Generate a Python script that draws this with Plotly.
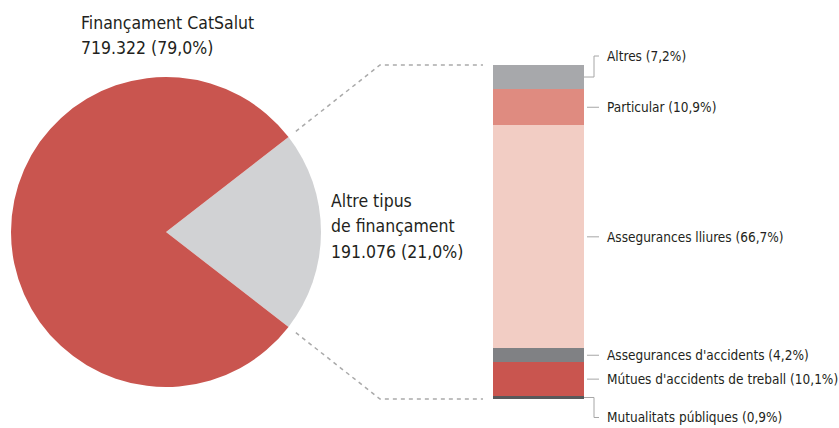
import math
import plotly.graph_objects as go

# ---------------- data ----------------
pie_labels = ["Altre tipus de finançament", "Finançament CatSalut"]
pie_values = [191076, 719322]
pie_pcts = ["21,0%", "79,0%"]
pie_colors = ["#d1d2d4", "#c9554f"]

# stacked bar, from top to bottom
bar_labels = ["Altres", "Particular", "Assegurances lliures",
              "Assegurances d'accidents", "Mútues d'accidents de treball",
              "Mutualitats públiques"]
bar_values = [7.2, 10.9, 66.7, 4.2, 10.1, 0.9]
bar_texts = ["7,2%", "10,9%", "66,7%", "4,2%", "10,1%", "0,9%"]
bar_colors = ["#a7a8ab", "#df8b80", "#f2cdc4", "#808184", "#c9554f", "#58595b"]

# ---------------- layout geometry ----------------
W, H = 839, 428
FONT = "DejaVu Sans Condensed, Liberation Sans Narrow, sans-serif"
TXT = "#231f20"

def px(x):
    return x / W

def py(y):
    return 1 - y / H

cx, cy, R = 166, 232, 155          # pie centre / radius (pixels)
bx0, bx1, by0, by1 = 493, 584, 65, 399   # bar box (pixels)

fig = go.Figure()

gray_share = pie_values[0] / sum(pie_values)
half_angle = gray_share * 360 / 2

fig.add_trace(go.Pie(
    labels=pie_labels, values=pie_values, sort=False,
    direction="clockwise", rotation=90 - half_angle,
    marker=dict(colors=pie_colors, line=dict(width=0)),
    textinfo="none", hoverinfo="label+value", showlegend=False,
    domain=dict(x=[px(cx - R), px(cx + R)], y=[py(cy + R), py(cy - R)]),
))

# stacked bar: add bottom-first so first item lands on top
for lab, val, col in zip(bar_labels[::-1], bar_values[::-1], bar_colors[::-1]):
    fig.add_trace(go.Bar(
        x=[0], y=[val], name=lab, marker=dict(color=col, line=dict(width=0)),
        width=1, showlegend=False, hoverinfo="name+y",
    ))

total = sum(bar_values)
scale = (by1 - by0) / total

shapes = []
annotations = []
LC = "#a6a6a6"

# leader lines & labels
cum = 0
for i, (lab, val, t) in enumerate(zip(bar_labels, bar_values, bar_texts)):
    mid = by0 + (cum + val / 2) * scale
    cum += val
    if i == 0 or i == len(bar_labels) - 1:
        ty = mid - 21 if i == 0 else mid + 20
        path = f"M {px(bx1)},{py(mid)} L {px(594)},{py(mid)} L {px(594)},{py(ty)} L {px(599)},{py(ty)}"
        shapes.append(dict(type="path", xref="paper", yref="paper", path=path,
                           line=dict(color=LC, width=1)))
    else:
        ty = mid
        shapes.append(dict(type="line", xref="paper", yref="paper",
                           x0=px(bx1 + 3), x1=px(599), y0=py(mid), y1=py(mid),
                           line=dict(color=LC, width=1)))
    annotations.append(dict(
        xref="paper", yref="paper", x=px(605), y=py(ty), xanchor="left",
        yanchor="middle", showarrow=False, text=f"{lab} ({t})",
        font=dict(family=FONT, size=13.5, color=TXT)))

# dashed connectors from the grey slice to the bar
a = math.radians(half_angle)
r2 = R * 1.06
sx = cx + r2 * math.cos(a)
for sy_sign, yb in [(-1, by0), (1, by1)]:
    sy = cy + sy_sign * r2 * math.sin(a)
    path = f"M {px(sx)},{py(sy)} L {px(380)},{py(yb)} L {px(483)},{py(yb)}"
    shapes.append(dict(type="path", xref="paper", yref="paper", path=path,
                       line=dict(color="#aaaaaa", width=1.5, dash="4px,4px")))

def fmt(v):
    return f"{v:,}".replace(",", ".")

def add_lines(lines, x, y_first, step):
    for k, ln in enumerate(lines):
        annotations.append(dict(
            xref="paper", yref="paper", x=px(x), y=py(y_first + k * step),
            xanchor="left", yanchor="middle", align="left", showarrow=False,
            text=ln, font=dict(family=FONT, size=17.5, color=TXT)))

add_lines([pie_labels[1], f"{fmt(pie_values[1])} ({pie_pcts[1]})"], 79, 23, 25)
add_lines(["Altre tipus", "de finançament", f"{fmt(pie_values[0])} ({pie_pcts[0]})"],
          329, 201, 25.5)

fig.update_layout(
    width=W, height=H, margin=dict(l=0, r=0, t=0, b=0),
    paper_bgcolor="white", plot_bgcolor="white",
    barmode="stack", bargap=0,
    xaxis=dict(domain=[px(bx0), px(bx1)], range=[-0.5, 0.5], visible=False, fixedrange=True),
    yaxis=dict(domain=[py(by1), py(by0)], range=[0, total], visible=False, fixedrange=True),
    shapes=shapes, annotations=annotations,
)

fig.write_html("out.html", config={"displayModeBar": False},
               post_script="document.body.style.margin='0';document.body.style.overflow='hidden';")
